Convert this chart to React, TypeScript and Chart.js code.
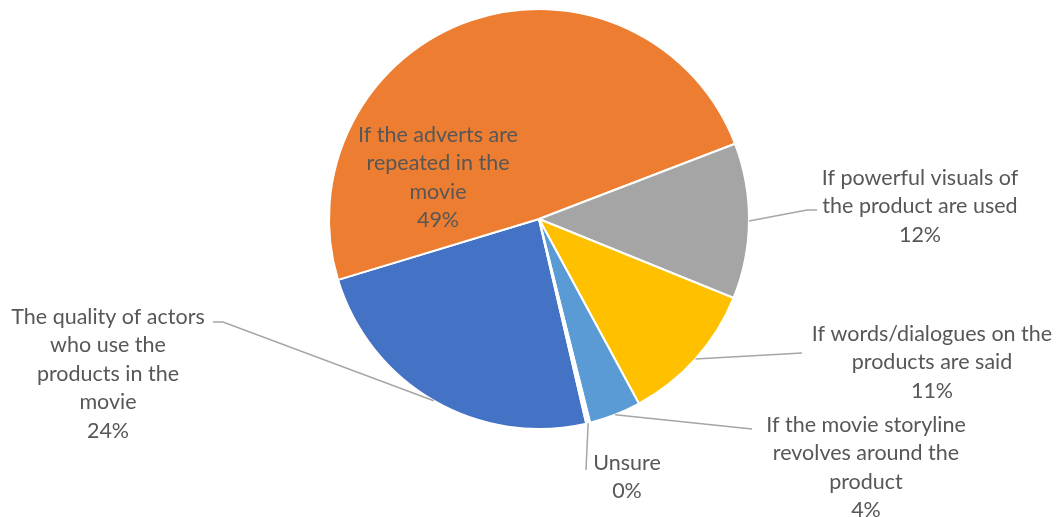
import React, { useEffect, useRef } from "react";
import { Chart, registerables } from "chart.js";

Chart.register(...registerables);

// Data (Excel series order)
const categories = [
  "The quality of actors who use the products in the movie",
  "If the adverts are repeated in the movie",
  "If powerful visuals of the product are used",
  "If words/dialogues on the products are said",
  "If the movie storyline revolves around the product",
  "Unsure",
];
const values = [24, 49, 12, 11, 4, 0.3];
const percentLabels = ["24%", "49%", "12%", "11%", "4%", "0%"];
const labelLines = [
  ["The quality of actors", "who use the", "products in the", "movie"],
  ["If the adverts are", "repeated in the", "movie"],
  ["If powerful visuals of", "the product are used"],
  ["If words/dialogues on the", "products are said"],
  ["If the movie storyline", "revolves around the", "product"],
  ["Unsure"],
];
const colors = ["#4472C4", "#ED7D31", "#A5A5A5", "#FFC000", "#5B9BD5", "#FFFFFF"];

// Label placement (annotation layout, not data)
const labelLayout = [
  { cx: 108, top: 317, leader: [[223, 322], [213, 322]] },
  { cx: 438, top: 135, leader: null },
  { cx: 920, top: 178, leader: [[807, 210], [817, 210]] },
  { cx: 932, top: 334, leader: [[802, 353]] },
  { cx: 866, top: 425, leader: [[752, 429]] },
  { cx: 627, top: 463, leader: [[586, 470]] },
];

const FONT = "21.5px Lato";
const LINE_H = 28.5;
const TEXT_COLOR = "#575757";

const labelPlugin = {
  id: "excelLabels",
  afterDraw(chart: any) {
    const ctx = chart.ctx;
    const meta = chart.getDatasetMeta(0);
    ctx.save();
    meta.data.forEach((arc: any, i: number) => {
      const p = arc.getProps(["x", "y", "startAngle", "endAngle", "outerRadius"], true);
      const mid = (p.startAngle + p.endAngle) / 2;
      const lay = labelLayout[i];
      if (lay.leader) {
        ctx.beginPath();
        ctx.strokeStyle = "#A6A6A6";
        ctx.lineWidth = 1.5;
        ctx.moveTo(p.x + Math.cos(mid) * p.outerRadius, p.y + Math.sin(mid) * p.outerRadius);
        lay.leader.forEach((pt: number[]) => ctx.lineTo(pt[0], pt[1]));
        ctx.stroke();
      }
      ctx.fillStyle = TEXT_COLOR;
      ctx.font = FONT;
      ctx.textAlign = "center";
      ctx.textBaseline = "middle";
      const lines = [...labelLines[i], percentLabels[i]];
      lines.forEach((t, k) => ctx.fillText(t, lay.cx, lay.top + k * LINE_H));
    });
    ctx.restore();
  },
};

export default function App() {
  const ref = useRef<HTMLCanvasElement | null>(null);
  useEffect(() => {
    if (!ref.current) return;
    const chart = new Chart(ref.current, {
      type: "pie",
      data: {
        labels: categories,
        datasets: [
          {
            data: values,
            backgroundColor: colors,
            borderColor: "#FFFFFF",
            borderWidth: 2,
            hoverOffset: 0,
          },
        ],
      },
      options: {
        responsive: false,
        animation: false,
        rotation: 167,
        radius: 210,
        layout: { padding: { left: 329, right: 308, top: 7, bottom: 86 } },
        plugins: {
          legend: { display: false },
          tooltip: { enabled: false },
        },
      },
      plugins: [labelPlugin],
    });
    return () => chart.destroy();
  }, []);
  return (
    <div style={{ position: "absolute", left: 0, top: 0, width: 1057, height: 517, background: "#fff" }}>
      <canvas ref={ref} width={1057} height={517} />
    </div>
  );
}
